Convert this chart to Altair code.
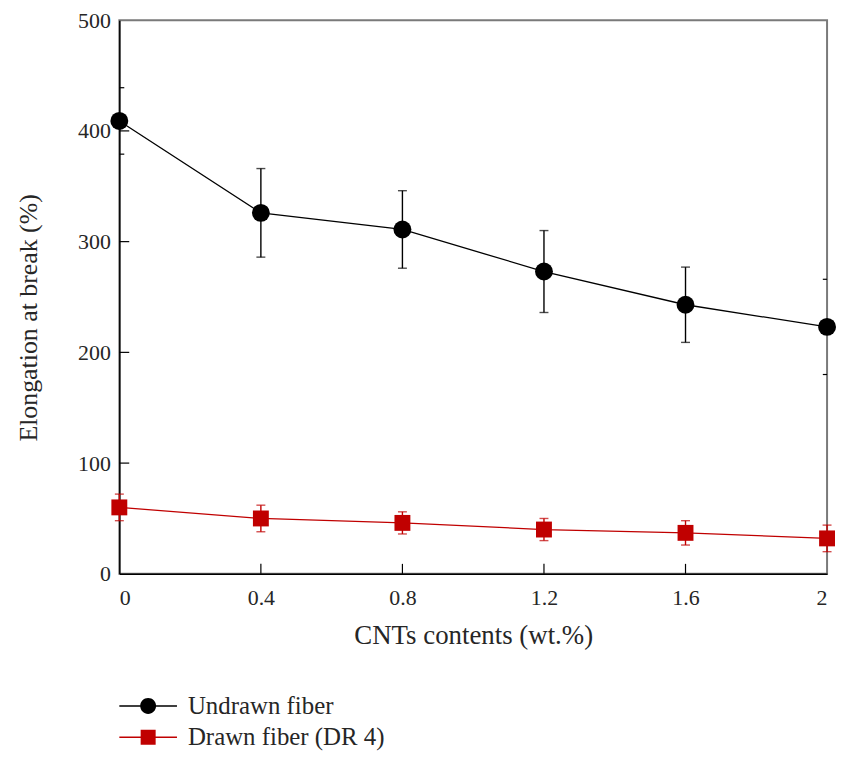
import altair as alt
import pandas as pd

# ---- data ----
cnt = [0, 0.4, 0.8, 1.2, 1.6, 2.0]
undrawn = [409, 326, 311, 273, 243, 223]
undrawn_err = [0, 40, 35, 37, 34, 0]
drawn = [60, 50, 46, 40, 37, 32]
drawn_err = [12, 12, 10, 10, 11, 12]

series_names = ["Undrawn fiber", "Drawn fiber (DR 4)"]
series_colors = ["#000000", "#c00000"]

x_ticks = [0, 0.4, 0.8, 1.2, 1.6, 2]
y_ticks = [0, 100, 200, 300, 400, 500]
left_major = [100, 200, 300, 400]
left_minor = [379, 439]
right_minor = [180, 266]
bottom_ticks = [0.4, 0.8, 1.2, 1.6]

rows = []
for xv, yv, ev in zip(cnt, undrawn, undrawn_err):
    rows.append(dict(x=xv, y=yv, lo=yv - ev, hi=yv + ev, err=ev, series=series_names[0]))
for xv, yv, ev in zip(cnt, drawn, drawn_err):
    rows.append(dict(x=xv, y=yv, lo=yv - ev, hi=yv + ev, err=ev, series=series_names[1]))
df = pd.DataFrame(rows)

FONT = "Liberation Serif"
TXT = "#262626"

x_scale = alt.Scale(domain=[0, 2], nice=False, zero=False)
y_scale = alt.Scale(domain=[0, 500], nice=False)
x_axis = alt.Axis(values=x_ticks, format="~g", title="CNTs contents (wt.%)", ticks=False,
                  grid=False, labelPadding=14, titleY=49, titleFontSize=27)
y_axis = alt.Axis(values=y_ticks, title="Elongation at break (%)", ticks=False,
                  grid=False, labelPadding=9, titleX=-78, titleY=299, titleFontSize=26)

col_scale = alt.Scale(domain=series_names, range=series_colors)


def X(field):
    return alt.X(field, type="quantitative", scale=x_scale, axis=x_axis)


def Y(field):
    return alt.Y(field, type="quantitative", scale=y_scale, axis=y_axis)


def COL():
    return alt.Color("series:N", scale=col_scale, legend=None)


base = alt.Chart(df)

lines = base.mark_line(strokeWidth=1.3).encode(
    x=X("x"), y=Y("y"), color=COL(), detail="series:N",
)

eb = base.transform_filter("datum.err > 0")
err_rule = eb.mark_rule(strokeWidth=1.4).encode(x=X("x"), y=Y("lo"), y2="hi", color=COL())
cap_lo = eb.mark_tick(orient="horizontal", size=9, thickness=1.4).encode(x=X("x"), y=Y("lo"), color=COL())
cap_hi = eb.mark_tick(orient="horizontal", size=9, thickness=1.4).encode(x=X("x"), y=Y("hi"), color=COL())

pts_u = base.transform_filter(alt.datum.series == series_names[0]).mark_point(
    filled=True, opacity=1, shape="circle", size=324).encode(x=X("x"), y=Y("y"), color=COL())
pts_d = base.transform_filter(alt.datum.series == series_names[1]).mark_point(
    filled=True, opacity=1, shape="square", size=256).encode(x=X("x"), y=Y("y"), color=COL())

# legend-only layers (no data drawn): one single-entry legend per series.
# Symbol = thin filled bars either side of the marker (line) + marker, all filled.
seg_l = "M-2,-0.05L-0.5,-0.05L-0.5,0.05L-2,0.05Z"
seg_r = "M0.5,-0.05L2,-0.05L2,0.05L0.5,0.05Z"
leg_paths = [
    seg_l + seg_r + "M0.55,0A0.55,0.55,0,1,1,-0.55,0A0.55,0.55,0,1,1,0.55,0Z",
    seg_l + seg_r + "M-0.52,-0.52L0.52,-0.52L0.52,0.52L-0.52,0.52Z",
]
leg_y = [675.5, 707]


def legend_layer(i):
    c = series_colors[i]
    return base.transform_filter("false").mark_point(
        filled=True, size=841, color=c, opacity=1
    ).encode(
        x=X("x"), y=Y("y"),
        shape=alt.Shape(
            "series:N",
            scale=alt.Scale(domain=[series_names[i]], range=[leg_paths[i]]),
            legend=alt.Legend(
                title=None, orient="none", legendX=14.5, legendY=leg_y[i], padding=0,
                symbolFillColor=c, symbolOpacity=1, symbolStrokeWidth=0,
                symbolSize=841, labelOffset=25.5, labelLimit=500,
            ),
        ),
    )


# inward tick marks
lt = pd.DataFrame({"v": left_major + left_minor,
                   "a": [0] * 6, "b": [0.028] * 4 + [0.014] * 2})
rt = pd.DataFrame({"v": right_minor, "a": [2, 2], "b": [1.988, 1.988]})
tdf = pd.concat([lt, rt], ignore_index=True)
ytick_layer = alt.Chart(tdf).mark_rule(color="black", strokeWidth=1.2).encode(
    x=X("a"), x2="b", y=Y("v"))
bdf = pd.DataFrame({"v": bottom_ticks, "a": [0] * 4, "b": [9] * 4})
xtick_layer = alt.Chart(bdf).mark_rule(color="black", strokeWidth=1.2).encode(
    x=X("v"), y=Y("a"), y2="b")

chart = alt.layer(
    ytick_layer, xtick_layer, lines, err_rule, cap_lo, cap_hi, pts_u, pts_d,
    legend_layer(0), legend_layer(1)
).resolve_scale(
    shape="independent"
).properties(
    width=712, height=557,
    autosize=alt.AutoSizeParams(type="none"),
    padding={"left": 112, "top": 10, "right": 10, "bottom": 177},
).configure_view(
    stroke="#7a7a7a", strokeWidth=2
).configure_axis(
    domainColor="black", domainWidth=1.5,
    labelFont=FONT, labelFontSize=22, labelColor=TXT,
    titleFont=FONT, titleColor=TXT, titleFontWeight="normal",
).configure_legend(
    labelFont=FONT, labelFontSize=25, labelColor=TXT,
)

chart.save("out.html", embed_options={"renderer": "svg", "actions": False})
